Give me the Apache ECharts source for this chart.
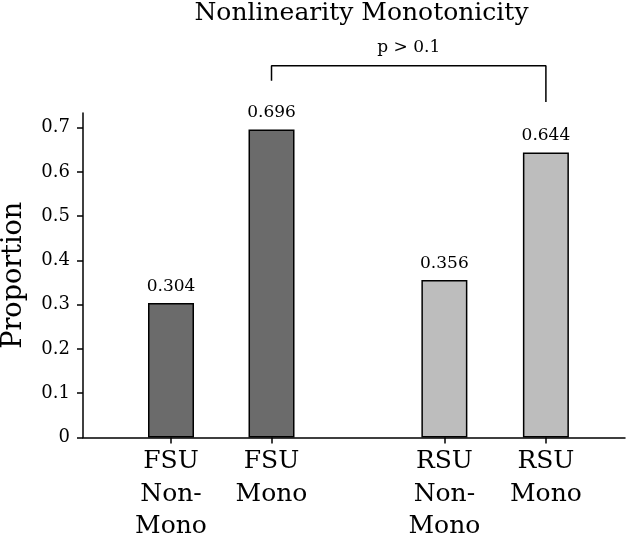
<!DOCTYPE html>
<html>
<head>
<meta charset="utf-8">
<script src="https://cdn.jsdelivr.net/npm/echarts@6/dist/echarts.min.js"></script>
<style>html,body{margin:0;padding:0;background:#fff;}#c{width:640px;height:538px;}</style>
</head>
<body>
<div id="c"></div>
<script>
const categories = ['FSU\nNon-\nMono', 'FSU\nMono', 'RSU\nNon-\nMono', 'RSU\nMono'];
const slots = [1, 2, 3.72, 4.73];
const values = [0.304, 0.696, 0.356, 0.644];
const groups = ['FSU', 'FSU', 'RSU', 'RSU'];
const yTicks = [0, 0.1, 0.2, 0.3, 0.4, 0.5, 0.6, 0.7];
const bracket = { from: 1, to: 3, text: 'p > 0.1', top: 0.84, leftEnd: 0.806, rightEnd: 0.758 };

const FONT = '"DejaVu Serif", "Liberation Serif", serif';
const colors = { FSU: '#6b6b6b', RSU: '#bdbdbd' };

const chart = echarts.init(document.getElementById('c'), null, { renderer: 'canvas' });
const barData = values.map((v, i) => ({
  value: [slots[i], v],
  itemStyle: { color: colors[groups[i]] }
}));
const bx1 = slots[bracket.from], bx2 = slots[bracket.to];
chart.setOption({
  animation: false,
  title: {
    text: 'Nonlinearity Monotonicity',
    left: 361.5, top: 1, padding: 0, textAlign: 'center',
    textStyle: { fontFamily: FONT, fontSize: 25, fontWeight: 'normal', color: '#000' }
  },
  grid: { left: 83, right: 15, top: 113, bottom: 100.5, containLabel: false, outerBoundsMode: 'none' },
  xAxis: {
    type: 'value', min: 0.1244, max: 5.517,
    splitLine: { show: false },
    axisLine: { lineStyle: { color: '#000', width: 1.5 } },
    axisTick: { customValues: slots, length: 6, lineStyle: { color: '#000', width: 1.5 } },
    axisLabel: {
      customValues: slots,
      formatter: v => { const i = slots.indexOf(v); return i >= 0 ? categories[i] : ''; },
      fontFamily: FONT, fontSize: 25, color: '#000', lineHeight: 32.5, margin: 8
    }
  },
  yAxis: {
    type: 'value', min: 0, max: 0.733,
    name: 'Proportion', nameLocation: 'middle', nameGap: 56, nameRotate: 90,
    nameTextStyle: { fontFamily: FONT, fontSize: 27, color: '#000' },
    splitLine: { show: false },
    axisLine: { show: true, lineStyle: { color: '#000', width: 1.5 } },
    axisTick: { show: true, customValues: yTicks, length: 6, lineStyle: { color: '#000', width: 1.5 } },
    axisLabel: {
      customValues: yTicks,
      formatter: v => String(Math.round(v * 10) / 10),
      fontFamily: FONT, fontSize: 18, color: '#000', margin: 13
    }
  },
  series: [
    {
      type: 'bar', data: barData, barWidth: 46,
      itemStyle: { borderColor: '#000', borderWidth: 1.5 },
      label: {
        show: true, position: 'top', distance: 8,
        formatter: p => p.value[1].toFixed(3),
        fontFamily: FONT, fontSize: 17, color: '#000'
      }
    },
    {
      type: 'line', clip: false, symbol: 'none', silent: true,
      lineStyle: { color: '#000', width: 1.5 },
      data: [[bx1, bracket.leftEnd], [bx1, bracket.top], [bx2, bracket.top], [bx2, bracket.rightEnd]]
    },
    {
      type: 'scatter', clip: false, silent: true, symbolSize: 0,
      itemStyle: { color: '#000', opacity: 1 },
      label: { show: true, position: 'top', distance: 10, formatter: bracket.text, fontFamily: FONT, fontSize: 17, color: '#000', opacity: 1 },
      data: [[(bx1 + bx2) / 2, bracket.top]]
    }
  ]
});
</script>
</body>
</html>
